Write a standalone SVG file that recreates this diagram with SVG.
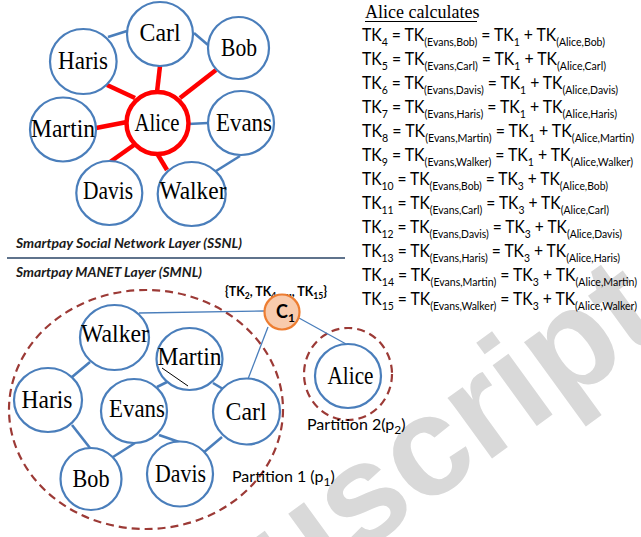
<svg xmlns="http://www.w3.org/2000/svg" width="641" height="537" viewBox="0 0 641 537">
  <style>
    .node { fill:#ffffff; stroke:#4a7ebb; stroke-width:2.2; }
    .lbl { font-family:"Liberation Serif","Times New Roman",serif; font-size:26px; fill:#000; text-anchor:middle; }
    .edge { stroke:#4a7ebb; stroke-width:2.6; fill:none; }
    .thin { stroke:#4a7ebb; stroke-width:1.3; fill:none; }
    .red { stroke:#ff0000; stroke-width:4.5; fill:none; }
    .part { fill:none; stroke:#9c3a36; stroke-width:2.2; stroke-dasharray:8 5; }
    .eq { font-family:Lato,"Liberation Sans",sans-serif; font-size:18px; fill:#000; }
    .sub { font-size:12px; }
    .layer { font-family:Lato,"Liberation Sans",sans-serif; font-size:12.5px; font-weight:bold; font-style:italic; fill:#1a1a1a; }
    .part-lbl { font-family:Lato,"Liberation Sans",sans-serif; font-size:16px; fill:#000; }
    .wm { font-family:"Liberation Sans",Arial,sans-serif; font-size:142px; font-weight:bold; fill:#d9d9d9; }
  </style>

  <!-- background watermark -->
  <text class="wm" transform="translate(286,608) rotate(-36)">uscript</text>

  <!-- layer divider and captions -->
  <line x1="7" y1="258" x2="345" y2="258" stroke="#2a4466" stroke-width="1.5"/>
  <text class="layer" x="16" y="248" textLength="226" lengthAdjust="spacingAndGlyphs">Smartpay Social Network Layer (SSNL)</text>
  <text class="layer" x="16" y="277" textLength="186" lengthAdjust="spacingAndGlyphs">Smartpay MANET Layer (SMNL)</text>

  <!-- partitions -->
  <g id="partition-1">
    <ellipse class="part" cx="146" cy="409.5" rx="137" ry="119.5"/>
    <text class="part-lbl" x="232" y="482">Partition 1 (p<tspan class="sub" dy="4">1</tspan><tspan dy="-4">)</tspan></text>
  </g>
  <g id="partition-2">
    <ellipse class="part" cx="348" cy="374" rx="44" ry="46"/>
    <text class="part-lbl" x="307" y="430">Partition 2(p<tspan class="sub" dy="4">2</tspan><tspan dy="-4">)</tspan></text>
  </g>

  <!-- connectors -->
  <g id="connectors">
    <!-- social layer -->
    <line class="edge" x1="108" y1="37" x2="127" y2="31"/>
    <line class="edge" x1="194" y1="33" x2="208" y2="45"/>
    <line class="edge" x1="188" y1="124" x2="208" y2="123"/>
    <line class="edge" x1="240" y1="156" x2="216" y2="171"/>
    <line class="red" x1="107" y1="85" x2="135" y2="98"/>
    <line class="red" x1="160" y1="66" x2="157" y2="92"/>
    <line class="red" x1="216" y1="70" x2="180" y2="98"/>
    <line class="red" x1="96" y1="128" x2="127" y2="122"/>
    <line class="red" x1="110" y1="162" x2="134" y2="145"/>
    <line class="red" x1="167" y1="170" x2="158" y2="155"/>
    <!-- MANET layer -->
    <line class="edge" x1="90" y1="362" x2="72" y2="377"/>
    <line class="edge" x1="72" y1="425" x2="90" y2="448"/>
    <line class="edge" x1="135" y1="443" x2="113" y2="457"/>
    <line class="edge" x1="157" y1="387" x2="167" y2="382"/>
    <line class="edge" x1="213" y1="383" x2="223" y2="389"/>
    <line class="edge" x1="159" y1="435" x2="182" y2="443"/>
    <line class="edge" x1="222" y1="437" x2="203" y2="453"/>
    <line class="thin" x1="139" y1="313" x2="265" y2="311"/>
    <line class="thin" x1="268" y1="327" x2="248" y2="379"/>
    <line class="thin" x1="299" y1="318" x2="346" y2="344"/>
  </g>

  <!-- social network layer nodes -->
  <g id="ssnl-carl"><ellipse class="node" cx="160" cy="34" rx="33" ry="32"/><text class="lbl" x="160" y="41" textLength="41" lengthAdjust="spacingAndGlyphs">Carl</text></g>
  <g id="ssnl-bob"><ellipse class="node" cx="238.5" cy="48" rx="30.5" ry="31"/><text class="lbl" x="239" y="56" textLength="36" lengthAdjust="spacingAndGlyphs">Bob</text></g>
  <g id="ssnl-haris"><ellipse class="node" cx="83.3" cy="61.5" rx="33.3" ry="32.5"/><text class="lbl" x="83" y="69" textLength="50" lengthAdjust="spacingAndGlyphs">Haris</text></g>
  <g id="ssnl-martin"><ellipse class="node" cx="63" cy="129.5" rx="33" ry="32"/><text class="lbl" x="63" y="137" textLength="64" lengthAdjust="spacingAndGlyphs">Martin</text></g>
  <g id="ssnl-alice"><ellipse cx="157.5" cy="123" rx="31" ry="31" fill="#ffffff" stroke="#ff0000" stroke-width="4.5"/><text class="lbl" x="157" y="131" textLength="45" lengthAdjust="spacingAndGlyphs">Alice</text></g>
  <g id="ssnl-evans"><ellipse class="node" cx="241" cy="123" rx="33" ry="32"/><text class="lbl" x="244" y="131" textLength="56" lengthAdjust="spacingAndGlyphs">Evans</text></g>
  <g id="ssnl-davis"><ellipse class="node" cx="109.3" cy="193" rx="33" ry="32"/><text class="lbl" x="108" y="199" textLength="50" lengthAdjust="spacingAndGlyphs">Davis</text></g>
  <g id="ssnl-walker"><ellipse class="node" cx="191.7" cy="194" rx="34" ry="32"/><text class="lbl" x="193" y="199" textLength="67" lengthAdjust="spacingAndGlyphs">Walker</text></g>

  <!-- MANET layer nodes -->
  <g id="smnl-walker"><ellipse class="node" cx="114.5" cy="337.5" rx="34.5" ry="32.5"/><text class="lbl" x="115" y="342" textLength="68" lengthAdjust="spacingAndGlyphs">Walker</text></g>
  <g id="smnl-martin"><ellipse class="node" cx="189.5" cy="359" rx="33" ry="31"/><text class="lbl" x="189.5" y="365" textLength="64" lengthAdjust="spacingAndGlyphs">Martin</text><line x1="162" y1="368" x2="188" y2="386" stroke="#000" stroke-width="1"/></g>
  <g id="smnl-haris"><ellipse class="node" cx="48" cy="400" rx="34" ry="32"/><text class="lbl" x="47" y="408" textLength="51" lengthAdjust="spacingAndGlyphs">Haris</text></g>
  <g id="smnl-evans"><ellipse class="node" cx="134" cy="411" rx="33" ry="32"/><text class="lbl" x="137" y="417" textLength="56" lengthAdjust="spacingAndGlyphs">Evans</text></g>
  <g id="smnl-carl"><ellipse class="node" cx="246.5" cy="411.5" rx="33.5" ry="33"/><text class="lbl" x="246" y="420" textLength="41" lengthAdjust="spacingAndGlyphs">Carl</text></g>
  <g id="smnl-davis"><ellipse class="node" cx="180" cy="474" rx="33" ry="32.5"/><text class="lbl" x="180.5" y="482" textLength="51" lengthAdjust="spacingAndGlyphs">Davis</text></g>
  <g id="smnl-bob"><ellipse class="node" cx="91" cy="479" rx="30.5" ry="31"/><text class="lbl" x="91" y="487" textLength="37" lengthAdjust="spacingAndGlyphs">Bob</text></g>
  <g id="smnl-alice"><ellipse class="node" cx="348" cy="376" rx="33" ry="32"/><text class="lbl" x="350.5" y="384" textLength="46" lengthAdjust="spacingAndGlyphs">Alice</text></g>

  <!-- coordinator node with its token set -->
  <g id="coordinator-c1">
    <text x="225" y="296" font-family="Lato,'Liberation Sans',sans-serif" font-size="13" font-weight="bold" fill="#000" textLength="102" lengthAdjust="spacingAndGlyphs">{TK<tspan font-size="9" dy="3">2</tspan><tspan dy="-3">, TK</tspan><tspan font-size="9" dy="3">4</tspan><tspan dy="-3">, …, TK</tspan><tspan font-size="9" dy="3">15</tspan><tspan dy="-3">}</tspan></text>
    <circle cx="282" cy="312" r="17.5" fill="#f8cbad" stroke="#ed7d31" stroke-width="2.2"/>
    <text x="276" y="318" font-family="Lato,'Liberation Sans',sans-serif" font-size="18" font-weight="bold" fill="#000">C<tspan font-size="12" dy="4">1</tspan></text>
  </g>

  <!-- token calculations -->
  <g id="calculations">
    <text x="365" y="18" font-family="'Liberation Serif','Times New Roman',serif" font-size="18" fill="#000">Alice calculates</text>
    <line x1="365" y1="21.5" x2="477" y2="21.5" stroke="#000" stroke-width="1"/>
    <text class="eq" x="362" y="41" textLength="243" lengthAdjust="spacingAndGlyphs">TK<tspan class="sub" dy="5">4</tspan><tspan dy="-5"> = TK</tspan><tspan class="sub" dy="5">(Evans,Bob)</tspan><tspan dy="-5"> = TK</tspan><tspan class="sub" dy="5">1</tspan><tspan dy="-5"> + TK</tspan><tspan class="sub" dy="5">(Alice,Bob)</tspan></text>
    <text class="eq" x="362" y="65" textLength="244" lengthAdjust="spacingAndGlyphs">TK<tspan class="sub" dy="5">5</tspan><tspan dy="-5"> = TK</tspan><tspan class="sub" dy="5">(Evans,Carl)</tspan><tspan dy="-5"> = TK</tspan><tspan class="sub" dy="5">1</tspan><tspan dy="-5"> + TK</tspan><tspan class="sub" dy="5">(Alice,Carl)</tspan></text>
    <text class="eq" x="362" y="89" textLength="256" lengthAdjust="spacingAndGlyphs">TK<tspan class="sub" dy="5">6</tspan><tspan dy="-5"> = TK</tspan><tspan class="sub" dy="5">(Evans,Davis)</tspan><tspan dy="-5"> = TK</tspan><tspan class="sub" dy="5">1</tspan><tspan dy="-5"> + TK</tspan><tspan class="sub" dy="5">(Alice,Davis)</tspan></text>
    <text class="eq" x="362" y="113" textLength="255" lengthAdjust="spacingAndGlyphs">TK<tspan class="sub" dy="5">7</tspan><tspan dy="-5"> = TK</tspan><tspan class="sub" dy="5">(Evans,Haris)</tspan><tspan dy="-5"> = TK</tspan><tspan class="sub" dy="5">1</tspan><tspan dy="-5"> + TK</tspan><tspan class="sub" dy="5">(Alice,Haris)</tspan></text>
    <text class="eq" x="362" y="137" textLength="272" lengthAdjust="spacingAndGlyphs">TK<tspan class="sub" dy="5">8</tspan><tspan dy="-5"> = TK</tspan><tspan class="sub" dy="5">(Evans,Martin)</tspan><tspan dy="-5"> = TK</tspan><tspan class="sub" dy="5">1</tspan><tspan dy="-5"> + TK</tspan><tspan class="sub" dy="5">(Alice,Martin)</tspan></text>
    <text class="eq" x="362" y="161" textLength="271" lengthAdjust="spacingAndGlyphs">TK<tspan class="sub" dy="5">9</tspan><tspan dy="-5"> = TK</tspan><tspan class="sub" dy="5">(Evans,Walker)</tspan><tspan dy="-5"> = TK</tspan><tspan class="sub" dy="5">1</tspan><tspan dy="-5"> + TK</tspan><tspan class="sub" dy="5">(Alice,Walker)</tspan></text>
    <text class="eq" x="362" y="185" textLength="246" lengthAdjust="spacingAndGlyphs">TK<tspan class="sub" dy="5">10</tspan><tspan dy="-5"> = TK</tspan><tspan class="sub" dy="5">(Evans,Bob)</tspan><tspan dy="-5"> = TK</tspan><tspan class="sub" dy="5">3</tspan><tspan dy="-5"> + TK</tspan><tspan class="sub" dy="5">(Alice,Bob)</tspan></text>
    <text class="eq" x="362" y="209" textLength="247" lengthAdjust="spacingAndGlyphs">TK<tspan class="sub" dy="5">11</tspan><tspan dy="-5"> = TK</tspan><tspan class="sub" dy="5">(Evans,Carl)</tspan><tspan dy="-5"> = TK</tspan><tspan class="sub" dy="5">3</tspan><tspan dy="-5"> + TK</tspan><tspan class="sub" dy="5">(Alice,Carl)</tspan></text>
    <text class="eq" x="362" y="233" textLength="260" lengthAdjust="spacingAndGlyphs">TK<tspan class="sub" dy="5">12</tspan><tspan dy="-5"> = TK</tspan><tspan class="sub" dy="5">(Evans,Davis)</tspan><tspan dy="-5"> = TK</tspan><tspan class="sub" dy="5">3</tspan><tspan dy="-5"> + TK</tspan><tspan class="sub" dy="5">(Alice,Davis)</tspan></text>
    <text class="eq" x="362" y="257" textLength="258" lengthAdjust="spacingAndGlyphs">TK<tspan class="sub" dy="5">13</tspan><tspan dy="-5"> = TK</tspan><tspan class="sub" dy="5">(Evans,Haris)</tspan><tspan dy="-5"> = TK</tspan><tspan class="sub" dy="5">3</tspan><tspan dy="-5"> + TK</tspan><tspan class="sub" dy="5">(Alice,Haris)</tspan></text>
    <text class="eq" x="362" y="281" textLength="275" lengthAdjust="spacingAndGlyphs">TK<tspan class="sub" dy="5">14</tspan><tspan dy="-5"> = TK</tspan><tspan class="sub" dy="5">(Evans,Martin)</tspan><tspan dy="-5"> = TK</tspan><tspan class="sub" dy="5">3</tspan><tspan dy="-5"> + TK</tspan><tspan class="sub" dy="5">(Alice,Martin)</tspan></text>
    <text class="eq" x="362" y="305" textLength="275" lengthAdjust="spacingAndGlyphs">TK<tspan class="sub" dy="5">15</tspan><tspan dy="-5"> = TK</tspan><tspan class="sub" dy="5">(Evans,Walker)</tspan><tspan dy="-5"> = TK</tspan><tspan class="sub" dy="5">3</tspan><tspan dy="-5"> + TK</tspan><tspan class="sub" dy="5">(Alice,Walker)</tspan></text>
  </g>
</svg>
